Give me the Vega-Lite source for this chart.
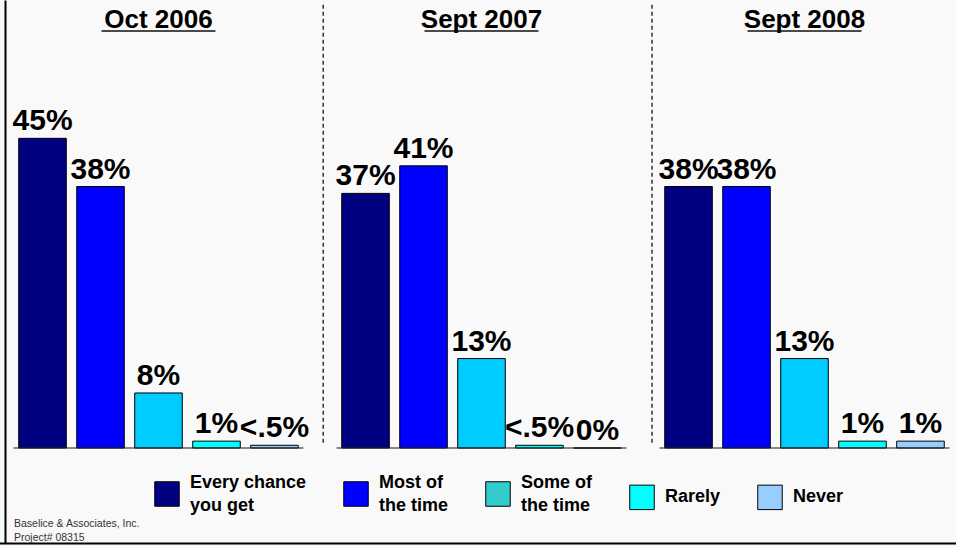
{
  "$schema": "https://vega.github.io/schema/vega-lite/v6.json",
  "width": 951,
  "height": 543,
  "autosize": {"type": "none"},
  "padding": {"left": 5, "top": 0, "right": 0, "bottom": 3},
  "background": "#f9f9f9",
  "config": {"font": "Liberation Sans", "view": {"stroke": null}},
  "data": {"values": [
    {"period": "Oct 2006", "category": "Every chance you get", "value": 45, "label": "45%"},
    {"period": "Oct 2006", "category": "Most of the time", "value": 38, "label": "38%"},
    {"period": "Oct 2006", "category": "Some of the time", "value": 8, "label": "8%"},
    {"period": "Oct 2006", "category": "Rarely", "value": 1, "label": "1%"},
    {"period": "Oct 2006", "category": "Never", "value": 0.4, "label": "<.5%"},
    {"period": "Sept 2007", "category": "Every chance you get", "value": 37, "label": "37%"},
    {"period": "Sept 2007", "category": "Most of the time", "value": 41, "label": "41%"},
    {"period": "Sept 2007", "category": "Some of the time", "value": 13, "label": "13%"},
    {"period": "Sept 2007", "category": "Rarely", "value": 0.4, "label": "<.5%"},
    {"period": "Sept 2007", "category": "Never", "value": 0, "label": "0%"},
    {"period": "Sept 2008", "category": "Every chance you get", "value": 38, "label": "38%"},
    {"period": "Sept 2008", "category": "Most of the time", "value": 38, "label": "38%"},
    {"period": "Sept 2008", "category": "Some of the time", "value": 13, "label": "13%"},
    {"period": "Sept 2008", "category": "Rarely", "value": 1, "label": "1%"},
    {"period": "Sept 2008", "category": "Never", "value": 1, "label": "1%"}
  ]},
  "resolve": {"scale": {"color": "independent"}, "legend": {"color": "independent"}},
  "layer": [
    {
      "mark": {"type": "bar", "stroke": "#000", "strokeWidth": 1},
      "encoding": {
        "x": {"field": "period", "type": "nominal", "sort": ["Oct 2006", "Sept 2007", "Sept 2008"],
              "scale": {"range": [-8, 961], "paddingInner": 0, "paddingOuter": 0},
              "axis": {"labels": false, "ticks": false, "grid": false, "title": null, "domainColor": "#000", "domainWidth": 2}},
        "xOffset": {"field": "category", "type": "nominal",
                    "sort": ["Every chance you get", "Most of the time", "Some of the time", "Rarely", "Never"],
                    "scale": {"paddingInner": 0.18, "paddingOuter": 0.375}},
        "y": {"field": "value", "type": "quantitative",
              "scale": {"domain": [-13.8, 65.1], "nice": false, "zero": false},
              "axis": {"labels": false, "ticks": false, "grid": false, "title": null, "domainColor": "#000", "domainWidth": 2}},
        "y2": {"datum": 0},
        "color": {"field": "category", "type": "nominal",
                  "scale": {"domain": ["Every chance you get", "Most of the time", "Some of the time", "Rarely", "Never"],
                            "range": ["#000080", "#0000FF", "#00CCFF", "#00FFFF", "#99CCFF"]},
                  "legend": null}
      }
    },
    {
      "mark": {"type": "bar", "fillOpacity": 0, "strokeOpacity": 0},
      "encoding": {
        "x": {"field": "period", "type": "nominal", "sort": ["Oct 2006", "Sept 2007", "Sept 2008"]},
        "xOffset": {"field": "category", "type": "nominal",
                    "sort": ["Every chance you get", "Most of the time", "Some of the time", "Rarely", "Never"]},
        "y": {"field": "value", "type": "quantitative"},
        "y2": {"datum": 0},
        "color": {"field": "category", "type": "nominal",
                 "scale": {"domain": ["Every chance you get", "Most of the time", "Some of the time", "Rarely", "Never"],
                           "range": ["#000080", "#0000FF", "#33CCCC", "#00FFFF", "#99CCFF"]},
                 "legend": {"orient": "none", "legendX": 149, "legendY": 481, "direction": "horizontal", "columns": 5,
                            "title": null, "symbolType": "square", "symbolSize": 600, "symbolStrokeColor": "#000",
                            "symbolStrokeWidth": 1, "symbolOpacity": 1, "symbolFillOpacity": 1, "labelFont": "Liberation Sans", "labelFontSize": 18,
                            "labelFontWeight": "bold", "labelColor": "#000", "labelOffset": 10, "columnPadding": 34,
                            "labelLimit": 0, "padding": 0,
                            "labelExpr": "datum.label == 'Every chance you get' ? ['Every chance', 'you get'] : datum.label == 'Most of the time' ? ['Most of', 'the time'] : datum.label == 'Some of the time' ? ['Some of', 'the time'] : datum.label",
                            "encode": {"symbols": {"update": {"fillOpacity": {"value": 1}, "strokeOpacity": {"value": 1}, "stroke": {"value": "#000"}, "strokeWidth": {"value": 1}}},
                                       "labels": {"update": {"lineHeight": {"value": 23}, "dy": {"signal": "indexof(datum.label, ' ') >= 0 ? -11 : 0"}}}}}}
      }
    },
    {
      "mark": {"type": "text", "baseline": "alphabetic", "dy": -8, "fontSize": 30, "fontWeight": "bold", "color": "#000"},
      "encoding": {
        "x": {"field": "period", "type": "nominal", "sort": ["Oct 2006", "Sept 2007", "Sept 2008"]},
        "xOffset": {"field": "category", "type": "nominal",
                    "sort": ["Every chance you get", "Most of the time", "Some of the time", "Rarely", "Never"]},
        "y": {"field": "value", "type": "quantitative"},
        "text": {"field": "label"}
      }
    },
    {
      "transform": [{"aggregate": [{"op": "count", "as": "n"}], "groupby": ["period"]}],
      "mark": {"type": "tick", "orient": "horizontal", "size": 290, "thickness": 1.5, "color": "#222"},
      "encoding": {
        "x": {"field": "period", "type": "nominal", "sort": ["Oct 2006", "Sept 2007", "Sept 2008"]},
        "y": {"datum": 0, "type": "quantitative"}
      }
    },
    {
      "transform": [{"aggregate": [{"op": "count", "as": "n"}], "groupby": ["period"]}],
      "mark": {"type": "text", "baseline": "alphabetic", "fontSize": 26, "fontWeight": "bold", "color": "#000"},
      "encoding": {
        "x": {"field": "period", "type": "nominal", "sort": ["Oct 2006", "Sept 2007", "Sept 2008"]},
        "y": {"datum": 61.03, "type": "quantitative"},
        "text": {"field": "period"}
      }
    },
    {
      "transform": [{"aggregate": [{"op": "count", "as": "n"}], "groupby": ["period"]}],
      "mark": {"type": "tick", "orient": "horizontal", "size": 114, "thickness": 2, "color": "#000"},
      "encoding": {
        "x": {"field": "period", "type": "nominal", "sort": ["Oct 2006", "Sept 2007", "Sept 2008"]},
        "y": {"datum": 60.6, "type": "quantitative"}
      }
    },
    {
      "data": {"values": [{}]},
      "mark": {"type": "rule", "strokeDash": [4, 3], "strokeWidth": 1.5, "color": "#333"},
      "encoding": {
        "x": {"datum": "Sept 2007", "bandPosition": 0.01},
        "y": {"datum": 64.4, "type": "quantitative"},
        "y2": {"datum": 0.4}
      }
    },
    {
      "data": {"values": [{}]},
      "mark": {"type": "rule", "strokeDash": [4, 3], "strokeWidth": 1.5, "color": "#333"},
      "encoding": {
        "x": {"datum": "Sept 2008", "bandPosition": 0.028},
        "y": {"datum": 64.4, "type": "quantitative"},
        "y2": {"datum": 0.4}
      }
    },
    {
      "data": {"values": [{}]},
      "mark": {"type": "text", "align": "left", "baseline": "alphabetic", "fontSize": 10.5, "color": "#333",
               "lineHeight": 13.5, "dx": 17, "text": ["Baselice & Associates, Inc.", "Project# 08315"]},
      "encoding": {
        "x": {"datum": "Oct 2006", "bandPosition": 0},
        "y": {"datum": -11.48, "type": "quantitative"}
      }
    }
  ]
}
